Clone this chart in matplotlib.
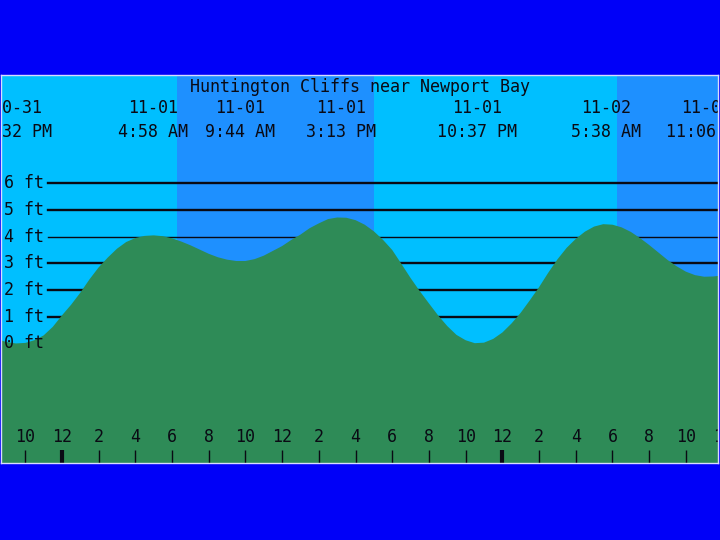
import numpy as np
import matplotlib.pyplot as plt

# tide height (ft) every half hour,
# hours counted from midnight 10-31/11-01
hours = np.arange(-4, 36.5, 0.5)
height = [0.25, 0.15, 0.05, 0.00, 0.02, 0.12, 0.30, 0.62, 1.05, 1.45,
          1.90, 2.40, 2.85, 3.22, 3.55, 3.80, 3.95, 4.03, 4.05, 4.02,
          3.94, 3.82, 3.68, 3.52, 3.36, 3.23, 3.14, 3.09, 3.09, 3.16,
          3.29, 3.47, 3.65, 3.88, 4.08, 4.32, 4.50, 4.66, 4.72, 4.71,
          4.62, 4.45, 4.20, 3.88, 3.50, 2.98, 2.45, 1.96, 1.50, 1.05,
          0.65, 0.32, 0.12, 0.01, 0.03, 0.17, 0.41, 0.75, 1.15, 1.62,
          2.11, 2.65, 3.15, 3.58, 3.92, 4.19, 4.38, 4.47, 4.45, 4.35,
          4.18, 3.95, 3.69, 3.41, 3.13, 2.89, 2.69, 2.56, 2.50, 2.51, 2.55]

# high / low tide events shown on top
event_hour = [-2.47, 4.97, 9.73, 15.22, 22.62, 29.63, 35.10]
event_date = ["10-31", "11-01", "11-01", "11-01", "11-01", "11-02", "11-02"]
event_time = ["9:32 PM", "4:58 AM", "9:44 AM", "3:13 PM", "10:37 PM", "5:38 AM", "11:06 AM"]

# daylight (sunrise, sunset) in hours
day_start = [6.27, 30.25]
day_end = [17.0, 41.0]

levels = [1, 2, 3, 4, 5, 6]
level_labels = [0, 1, 2, 3, 4, 5, 6]
tick_hours = list(range(-2, 37, 2))

title = "Huntington Cliffs near Newport Bay"

light = '#00BFFF'
dark = '#1E90FF'
green = '#2E8B57'
ink = '#0a0a14'
font = 'DejaVu Sans Mono'
fs = 12

fig = plt.figure(figsize=(7.2, 5.4), dpi=100, facecolor='#0000F8')
ax = fig.add_axes([1/720, 77/540, 717/720, 388/540])
ax.set_facecolor(light)
ax.set_xlim(-3.32, 35.75)
ax.set_ylim(-4.48, 10.06)

for s, e in zip(day_start, day_end):
    ax.axvspan(s, e, color=dark, lw=0, zorder=1)

for lv in levels:
    lw = 1.0 if lv == 4 else 1.7
    ax.axhline(lv, xmin=0.065, xmax=1, color=ink, lw=lw, zorder=2)

ax.fill_between(hours, height, -10, color=green, lw=0, zorder=3)

for lv in level_labels:
    ax.text(0.004, lv, f"{lv} ft", transform=ax.get_yaxis_transform(),
            ha='left', va='center', fontsize=fs, family=font, color=ink, zorder=4)

ax.text(0.5, 0.969, title, transform=ax.transAxes, ha='center', va='center',
        fontsize=fs, family=font, color=ink, zorder=4)
for h, d, t in zip(event_hour, event_date, event_time):
    ax.text(h, 0.915, d, transform=ax.get_xaxis_transform(), ha='center', va='center',
            fontsize=fs, family=font, color=ink, clip_on=True, zorder=4)
    ax.text(h, 0.853, t, transform=ax.get_xaxis_transform(), ha='center', va='center',
            fontsize=fs, family=font, color=ink, clip_on=True, zorder=4)

tick_w = [3.0 if h % 24 == 0 else 1.0 for h in tick_hours]
ax.vlines(tick_hours, 0, 0.034, transform=ax.get_xaxis_transform(),
          colors=ink, linewidths=tick_w, zorder=4)
for h in tick_hours:
    lab = (h % 12) or 12
    ax.text(h, 0.067, str(lab), transform=ax.get_xaxis_transform(), ha='center',
            va='center', fontsize=fs, family=font, color=ink, clip_on=True, zorder=4)

ax.set_xticks([])
ax.set_yticks([])
for sp in ax.spines.values():
    sp.set_color('#d8dcff')
    sp.set_linewidth(1.0)
    sp.set_zorder(5)

fig.savefig('out.png', dpi=100, facecolor=fig.get_facecolor())
